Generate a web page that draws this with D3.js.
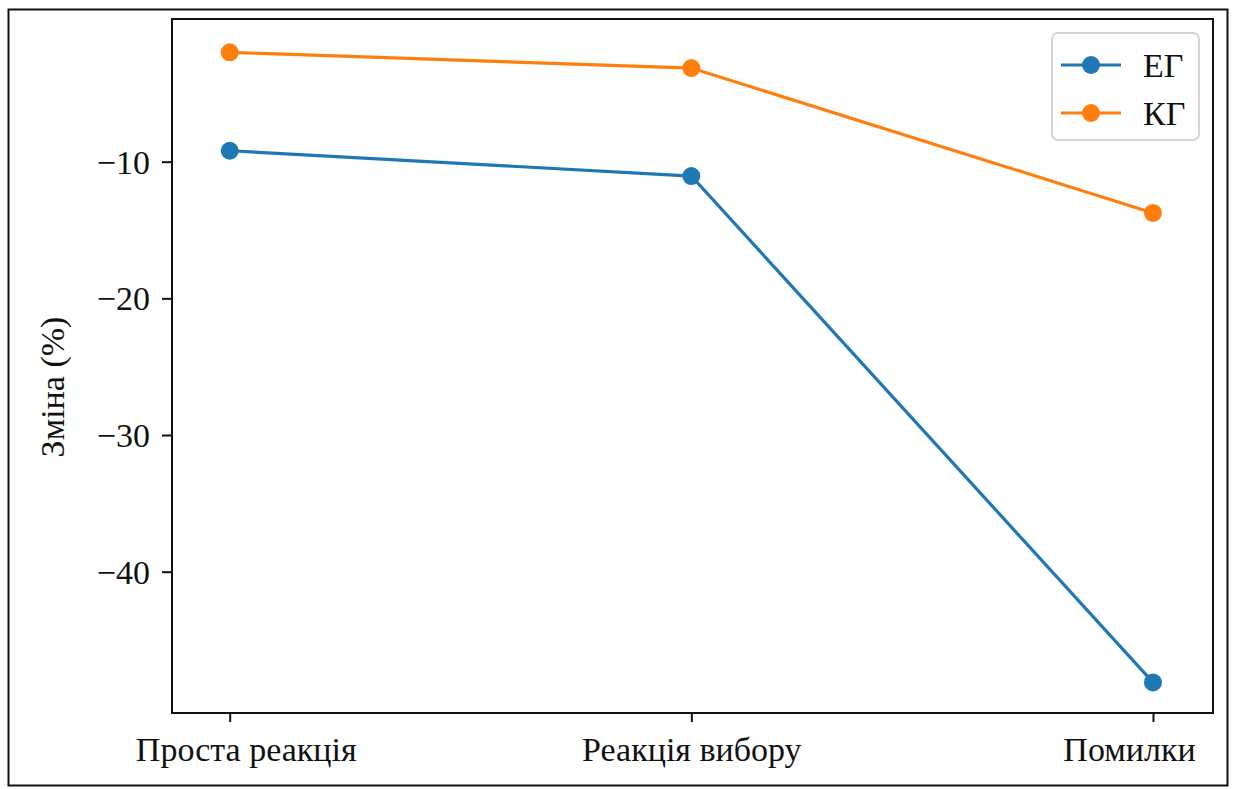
<!DOCTYPE html>
<html>
<head>
<meta charset="utf-8">
<script src="https://cdn.jsdelivr.net/npm/d3@7/dist/d3.min.js"></script>
<style>
  html, body { margin: 0; padding: 0; background: #fff; }
  svg { display: block; }
  svg text { font-family: "Liberation Serif", "Times New Roman", serif; fill: #111; }
</style>
</head>
<body>
<svg id="chart" width="1235" height="789"></svg>
<script>
const categories = ["Проста реакція", "Реакція вибору", "Помилки"];
const seriesNames = ["ЕГ", "КГ"];
const egValues = [-9.2, -11.05, -48.1];
const kgValues = [-2.0, -3.15, -13.75];
const yTicks = [-10, -20, -30, -40];
const colors = ["#1f77b4", "#ff7f0e"];

const series = [
  { name: seriesNames[0], values: egValues, color: colors[0] },
  { name: seriesNames[1], values: kgValues, color: colors[1] }
];

const svg = d3.select("#chart");
const plot = { left: 172, right: 1213, top: 19, bottom: 713 };
const labelShift = [16, 0, -24];

svg.append("rect")
  .attr("x", 8.5).attr("y", 9.5)
  .attr("width", 1219).attr("height", 776)
  .attr("fill", "none").attr("stroke", "#111").attr("stroke-width", 2);

const x = d3.scaleLinear().domain([-0.125, 2.13]).range([plot.left, plot.right]);
const y = d3.scaleLinear().domain([-50.34, 0.44]).range([plot.bottom, plot.top]);

const xAxis = d3.axisBottom(x)
  .tickValues(categories.map((c, i) => i))
  .tickFormat(i => categories[i])
  .tickSize(9).tickPadding(15);
const gx = svg.append("g").attr("transform", `translate(0,${plot.bottom})`).call(xAxis);
gx.attr("font-family", null);
gx.select(".domain").remove();
gx.selectAll(".tick line").attr("stroke", "#111").attr("stroke-width", 2);
gx.selectAll(".tick text").style("font-size", "34px").attr("fill", "#111")
  .attr("dx", (d, i) => labelShift[i]);

const yAxis = d3.axisLeft(y)
  .tickValues(yTicks)
  .tickFormat(d => "\u2212" + Math.abs(d))
  .tickSize(10).tickPadding(12);
const gy = svg.append("g").attr("transform", `translate(${plot.left},0)`).call(yAxis);
gy.attr("font-family", null);
gy.select(".domain").remove();
gy.selectAll(".tick line").attr("stroke", "#111").attr("stroke-width", 2);
gy.selectAll(".tick text").style("font-size", "34px").attr("fill", "#111")
  .attr("dy", "0.34em");

svg.append("rect")
  .attr("x", plot.left).attr("y", plot.top)
  .attr("width", plot.right - plot.left).attr("height", plot.bottom - plot.top)
  .attr("fill", "none").attr("stroke", "#111").attr("stroke-width", 2);

svg.append("text")
  .attr("transform", `translate(64,387) rotate(-90)`)
  .attr("text-anchor", "middle")
  .style("font-size", "34px")
  .text("Зміна (%)");

const line = d3.line().x((d, i) => x(i)).y(d => y(d));
series.forEach(s => {
  svg.append("path")
    .datum(s.values)
    .attr("d", line)
    .attr("fill", "none")
    .attr("stroke", s.color)
    .attr("stroke-width", 3.2);
  svg.selectAll(null)
    .data(s.values)
    .enter().append("circle")
    .attr("cx", (d, i) => x(i))
    .attr("cy", d => y(d))
    .attr("r", 9)
    .attr("fill", s.color);
});

const lg = svg.append("g").attr("transform", "translate(1052,33)");
lg.append("rect")
  .attr("width", 147).attr("height", 107).attr("rx", 6)
  .attr("fill", "#fff").attr("fill-opacity", 0.8)
  .attr("stroke", "#d6d6d6").attr("stroke-width", 2);
series.forEach((s, i) => {
  const yy = 32 + i * 48;
  lg.append("line").attr("x1", 9).attr("x2", 69).attr("y1", yy).attr("y2", yy)
    .attr("stroke", s.color).attr("stroke-width", 3.2);
  lg.append("circle").attr("cx", 39).attr("cy", yy).attr("r", 9).attr("fill", s.color);
  lg.append("text").attr("x", 91).attr("y", yy).attr("dy", "0.35em")
    .style("font-size", "34px").text(s.name);
});
</script>
</body>
</html>
